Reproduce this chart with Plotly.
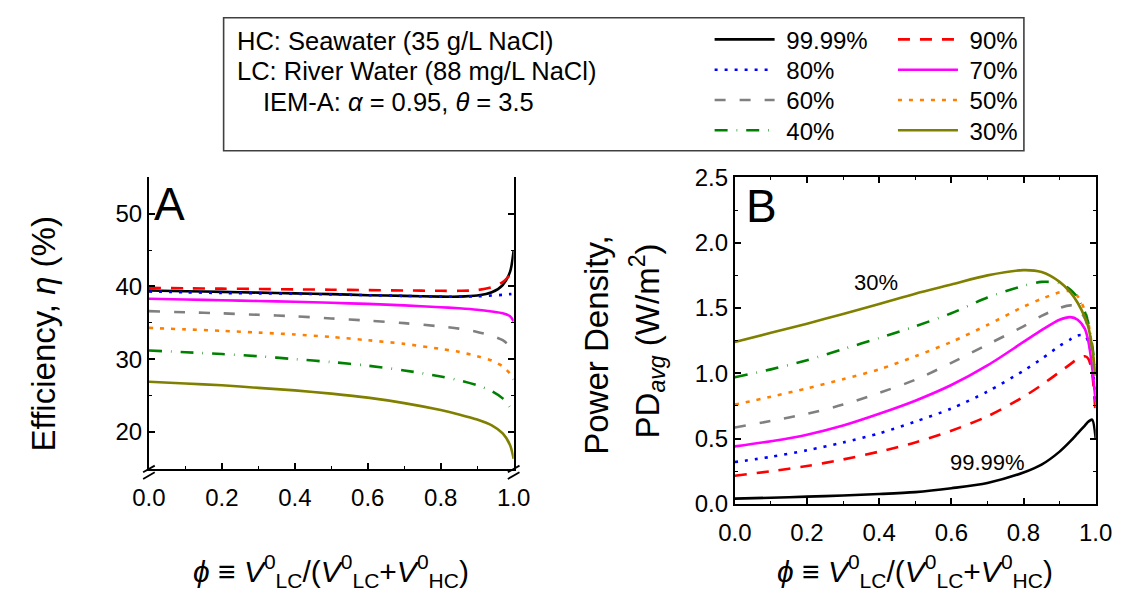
import plotly.graph_objects as go

W, H = 1135, 611

# ---- data -------------------------------------------------------------
series_names = ["99.99%", "90%", "80%", "70%", "60%", "50%", "40%", "30%"]
series_colors = ["#000000", "#ff0000", "#0000ff", "#ff00ff",
                 "#808080", "#ff8000", "#008000", "#808000"]
series_dashes = ["solid", "12px,10px", "3px,7px", "solid",
                 "11px,14px", "4px,7px", "13px,9px,0.6px,9px", "solid"]

# volume fraction grid for efficiency (panel A)
phi_a = [0, 0.1, 0.2, 0.3, 0.4, 0.5, 0.6, 0.7, 0.8, 0.85, 0.9, 0.94, 0.97, 0.99, 1.0]
eff_9999 = [39.45, 39.35, 39.25, 39.15, 39.05, 38.95, 38.8, 38.7, 38.6, 38.6, 38.75, 39.2, 40.2, 42.0, 45.0]
eff_90 = [39.8, 39.75, 39.7, 39.65, 39.6, 39.55, 39.5, 39.45, 39.4, 39.4, 39.5, 39.9, 40.6, 41.6, 42.2]
eff_80 = [39.3, 39.2, 39.1, 39.05, 39.0, 38.9, 38.8, 38.7, 38.6, 38.6, 38.65, 38.75, 38.85, 38.95, 39.0]
eff_70 = [38.3, 38.2, 38.1, 38.0, 37.9, 37.75, 37.6, 37.4, 37.15, 37.0, 36.8, 36.55, 36.3, 35.9, 35.2]
eff_60 = [36.6, 36.45, 36.3, 36.1, 35.9, 35.6, 35.3, 34.95, 34.5, 34.2, 33.75, 33.2, 32.6, 31.8, 31.2]
eff_50 = [34.3, 34.1, 33.9, 33.65, 33.4, 33.05, 32.6, 32.1, 31.4, 31.0, 30.4, 29.8, 29.0, 28.0, 27.2]
eff_40 = [31.2, 30.95, 30.7, 30.4, 30.0, 29.6, 29.1, 28.45, 27.6, 27.1, 26.4, 25.6, 24.6, 23.4, 22.5]
eff_30 = [26.9, 26.65, 26.4, 26.05, 25.7, 25.25, 24.7, 23.95, 23.0, 22.4, 21.7, 20.9, 19.8, 18.2, 16.3]

# volume fraction grid for average power density (panel B)
phi_b = [0, 0.1, 0.2, 0.3, 0.4, 0.5, 0.6, 0.7, 0.8, 0.85, 0.9, 0.93, 0.95, 0.97, 0.98, 0.99, 1.0]
pd_9999 = [0.04, 0.047, 0.055, 0.064, 0.075, 0.09, 0.12, 0.16, 0.24, 0.30, 0.40, 0.48, 0.54, 0.60, 0.63, 0.645, 0.50]
pd_90 = [0.215, 0.25, 0.29, 0.34, 0.40, 0.47, 0.56, 0.67, 0.82, 0.91, 1.01, 1.07, 1.11, 1.13, 1.11, 1.0, 0.68]
pd_80 = [0.32, 0.36, 0.41, 0.47, 0.54, 0.63, 0.73, 0.86, 1.02, 1.11, 1.21, 1.26, 1.29, 1.29, 1.24, 1.10, 0.75]
pd_70 = [0.44, 0.48, 0.53, 0.60, 0.69, 0.79, 0.91, 1.06, 1.24, 1.33, 1.41, 1.43, 1.41, 1.34, 1.24, 1.05, 0.78]
pd_60 = [0.585, 0.635, 0.69, 0.76, 0.85, 0.95, 1.08, 1.22, 1.36, 1.44, 1.50, 1.52, 1.50, 1.42, 1.33, 1.16, 0.92]
pd_50 = [0.76, 0.82, 0.885, 0.955, 1.03, 1.13, 1.24, 1.37, 1.51, 1.57, 1.62, 1.63, 1.59, 1.48, 1.38, 1.20, 0.95]
pd_40 = [0.97, 1.03, 1.10, 1.185, 1.27, 1.36, 1.46, 1.58, 1.67, 1.70, 1.69, 1.64, 1.58, 1.47, 1.38, 1.22, 1.0]
pd_30 = [1.24, 1.31, 1.38, 1.455, 1.53, 1.61, 1.68, 1.75, 1.79, 1.775, 1.70, 1.62, 1.54, 1.43, 1.35, 1.20, 0.98]

eff_series = [eff_9999, eff_90, eff_80, eff_70, eff_60, eff_50, eff_40, eff_30]
pd_series = [pd_9999, pd_90, pd_80, pd_70, pd_60, pd_50, pd_40, pd_30]

x_ticks = [0, 0.2, 0.4, 0.6, 0.8, 1.0]

# ---- layout geometry (pixels -> paper) ---------------------------------
def px(x):
    return x / W

def py(y):
    return 1 - y / H

A_X = [px(136), px(512)]
B_X = [px(740), px(1112)]
TOP, BOT = 171, 512.5
A_UP = [py(476), py(TOP)]
A_LO = [py(BOT), py(483)]
B_Y = [py(BOT), py(TOP)]

FONT = "Liberation Sans, Arial, Helvetica, sans-serif"
LW = 2.6

# legend grid: two columns of four rows inside the key frame
LEG_COLS = [714, 903]
LEG_ROWS = [27, 58.7, 90.4, 122]
legend_ids = ["legend"] + ["legend%d" % k for k in range(2, 9)]

fig = go.Figure()

for i, (name, color, dash, ya, yb) in enumerate(zip(series_names, series_colors,
                                                    series_dashes, eff_series, pd_series)):
    line = dict(color=color, width=LW, dash=dash, shape="spline", smoothing=0.8)
    fig.add_trace(go.Scatter(x=phi_a, y=ya, mode="lines", line=line,
                             xaxis="x", yaxis="y", name=name,
                             legendgroup=name, showlegend=False))
    # a non-breaking space opens a little gap between key line and label
    fig.add_trace(go.Scatter(x=phi_b, y=yb, mode="lines", line=line,
                             xaxis="x2", yaxis="y3", name="\u00a0" + name,
                             legend=legend_ids[i],
                             legendgroup=name, showlegend=True))

axis_common = dict(showline=True, linecolor="black", linewidth=2,
                   ticks="inside", ticklen=6, tickwidth=1.6, tickcolor="black",
                   showgrid=False, zeroline=False,
                   tickfont=dict(family=FONT, size=24, color="black"))

x_common = dict(axis_common, range=[0, 1], tickvals=x_ticks, tickformat=".1f",
                minor=dict(dtick=0.1, tick0=0, ticks="inside", ticklen=3,
                           tickwidth=1.4, tickcolor="black"))

legend_common = dict(orientation="v", xanchor="left", yanchor="middle",
                     itemwidth=60, tracegroupgap=0,
                     font=dict(family=FONT, size=24, color="black"),
                     bgcolor="rgba(0,0,0,0)", traceorder="normal",
                     itemclick=False, itemdoubleclick=False)

legends = {}
for i, lid in enumerate(legend_ids):
    col, row = i % 2, i // 2
    legends[lid] = dict(legend_common, x=px(LEG_COLS[col]), y=py(LEG_ROWS[row]))

fig.update_layout(
    width=W, height=H, autosize=False,
    margin=dict(l=0, r=0, t=0, b=0),
    paper_bgcolor="white", plot_bgcolor="white",
    font=dict(family=FONT, color="black"),
    # panel A: bottom axis + mirrored top axis
    xaxis=dict(x_common, domain=A_X, anchor="y2", ticklabelstandoff=6),
    xaxis3=dict(x_common, domain=A_X, anchor="y", overlaying="x",
                side="top", showticklabels=False),
    # panel A: upper (broken) segment and lower segment
    yaxis=dict(axis_common, domain=A_UP, anchor="x", range=[14.89, 55],
               tickvals=[20, 30, 40, 50], mirror="ticks",
               minor=dict(tickvals=[15, 25, 35, 45], ticks="inside", ticklen=3,
                          tickwidth=1.4, tickcolor="black")),
    yaxis2=dict(axis_common, domain=A_LO, anchor="x", range=[0, 9.5],
                tickvals=[0], mirror="ticks",
                minor=dict(tickvals=[5], ticks="inside", ticklen=3,
                           tickwidth=1.4, tickcolor="black")),
    # panel B
    xaxis2=dict(x_common, domain=B_X, anchor="y3", mirror="ticks",
                ticklabelstandoff=6),
    yaxis3=dict(axis_common, domain=B_Y, anchor="x2", range=[0, 2.5],
                dtick=0.5, tick0=0, tickformat=".1f", mirror="ticks",
                minor=dict(dtick=0.25, tick0=0, ticks="inside", ticklen=3,
                           tickwidth=1.4, tickcolor="black")),
    **legends,
)

shapes = []
# key frame
shapes.append(dict(type="rect", xref="paper", yref="paper",
                   x0=px(213), x1=px(1038), y0=py(143), y1=py(4),
                   line=dict(color="#404040", width=1.6), fillcolor="rgba(0,0,0,0)",
                   layer="below"))
# axis-break marks on both spines of panel A
for xs in (136, 512):
    for yc in (476, 483):
        shapes.append(dict(type="line", xref="paper", yref="paper",
                           x0=px(xs - 6), y0=py(yc + 3.5),
                           x1=px(xs + 6), y1=py(yc - 3.5),
                           line=dict(color="black", width=1.8)))
fig.update_layout(shapes=shapes)

ann = []
def text(x, y, s, size, xanchor="center", yanchor="middle", angle=0, xref="paper", yref="paper"):
    ann.append(dict(x=x, y=y, xref=xref, yref=yref, text=s, showarrow=False,
                    xanchor=xanchor, yanchor=yanchor, textangle=angle,
                    font=dict(family=FONT, size=size, color="black")))

# description block inside the key frame
text(px(225), py(28), "HC: Seawater (35 g/L NaCl)", 25.5, xanchor="left")
text(px(225), py(60), "LC: River Water (88 mg/L NaCl)", 25.5, xanchor="left")
text(px(252), py(92), "IEM-A: <i>α</i> = 0.95, <i>θ</i> = 3.5", 25.5, xanchor="left")

# panel letters
text(px(139), py(199), "A", 46, xanchor="left")
text(px(749), py(201), "B", 46, xanchor="left")

# curve labels in panel B
text(0.39, 1.695, "30%", 22, xref="x2", yref="y3")
text(0.70, 0.32, "99.99%", 22, xref="x2", yref="y3")

# axis titles
text(px(27), py(335), "Efficiency, <i>η</i> (%)", 33, angle=-90)
text(px(598), py(347), "Power Density,", 33, angle=-90)
text(px(650), py(342), "PD<sub><i>avg</i></sub> (W/m<sup>2</sup>)", 33, angle=-90)
xtitle = ("<i>ϕ</i> ≡ <i>V</i><sup>0</sup><sub>LC</sub>/(<i>V</i><sup>0</sup><sub>LC</sub>"
          "+<i>V</i><sup>0</sup><sub>HC</sub>)")
text(px(324), py(583), xtitle, 30)
text(px(926), py(583), xtitle, 30)

fig.update_layout(annotations=ann)

fig.write_html("out.html")
